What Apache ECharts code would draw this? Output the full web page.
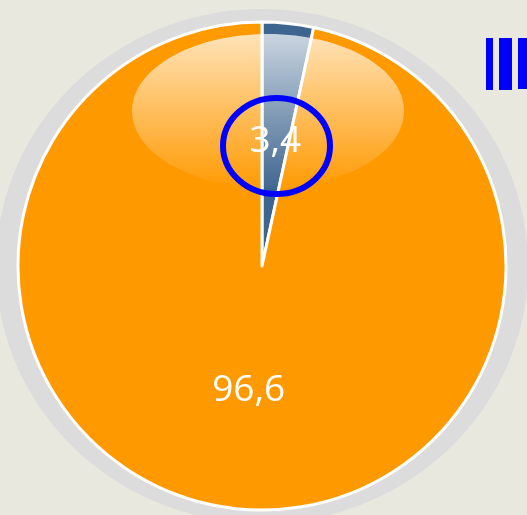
<!DOCTYPE html>
<html>
<head>
<meta charset="utf-8">
<script src="https://cdn.jsdelivr.net/npm/echarts@6/dist/echarts.min.js"></script>
<style>
  html, body { margin: 0; padding: 0; background: #e8e8de; }
  #main { width: 527px; height: 515px; }
</style>
</head>
<body>
<div id="main"></div>
<script>
// slice data, clockwise from 12 o'clock
var sliceNames = ['A', 'B'];
var sliceValues = [3.4, 96.6];
var sliceLabels = ['3,4', '96,6'];
var sliceColors = ['#3e6590', '#ff9900'];

function getSeriesData(){
    var data = [];
    for (var i = 0; i < sliceValues.length; i++) {
        data.push({name: sliceNames[i], value: sliceValues[i], itemStyle: {color: sliceColors[i]}});
    }
    return data;
}

var cx = 262, cy = 266;

var myChart = echarts.init(document.getElementById('main'));
var option = {
    backgroundColor: '#e8e8de',
    animation: false,
    graphic: [
        // grey ring behind the pie
        {type: 'ellipse', z: 0, shape: {cx: cx, cy: cy, rx: 266, ry: 257}, style: {fill: '#dcdcdc'}},
        // gloss highlight
        {
            type: 'ellipse', z: 100, silent: true,
            shape: {cx: 268, cy: 111, rx: 136, ry: 77},
            style: {
                fill: new echarts.graphic.LinearGradient(0, 0, 0, 1, [
                    {offset: 0, color: 'rgba(255,255,255,0.72)'},
                    {offset: 0.55, color: 'rgba(255,255,255,0.33)'},
                    {offset: 1, color: 'rgba(255,255,255,0.02)'}
                ])
            }
        },
        // annotation ring
        {type: 'ellipse', z: 120, shape: {cx: 276.5, cy: 146, rx: 53.5, ry: 48},
         style: {fill: 'none', stroke: '#0000ff', lineWidth: 6}},
        // cut-off legend marks
        {type: 'rect', z: 120, shape: {x: 486, y: 38, width: 7, height: 52}, style: {fill: '#0000ff'}},
        {type: 'rect', z: 120, shape: {x: 499, y: 38, width: 13, height: 52}, style: {fill: '#0000ff'}},
        {type: 'rect', z: 120, shape: {x: 518, y: 38, width: 12, height: 51}, style: {fill: '#0000ff'}}
    ],
    series: [
        {
            type: 'pie',
            center: [cx, cy],
            radius: [0, 244],
            startAngle: 90,
            clockwise: true,
            z: 2,
            silent: true,
            itemStyle: {borderColor: '#ffffff', borderWidth: 3},
            label: {
                show: true,
                position: 'inner',
                color: '#ffffff',
                fontSize: 37,
                fontFamily: 'Open Sans',
                formatter: function(p){ return sliceLabels[p.dataIndex]; }
            },
            labelLine: {show: false},
            data: getSeriesData()
        }
    ]
};
myChart.setOption(option);
</script>
</body>
</html>
